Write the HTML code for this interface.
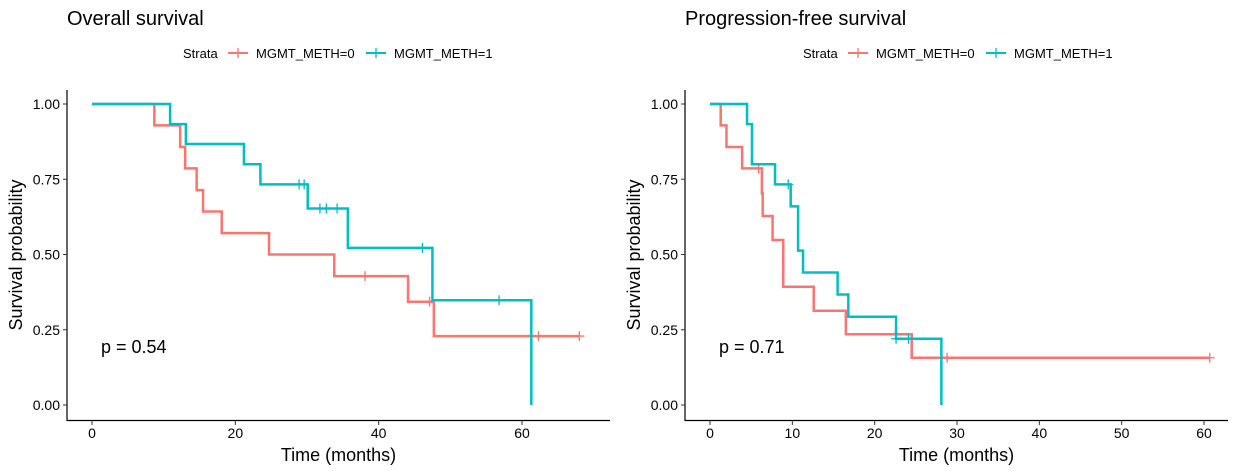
<!DOCTYPE html>
<html><head><meta charset="utf-8"><style>
body{margin:0;background:#fff;}
svg{display:block;font-family:"Liberation Sans",Arial,sans-serif;}
</style></head><body>
<svg id="c" width="1238" height="471" viewBox="0 0 1238 471"></svg>
<script>
// Overall survival data
const osRedTimes=[0,8.7,12.3,13.0,14.6,15.5,18.1,24.7,33.8,44.1,47.7,68.0];
const osRedSurv=[1,0.929,0.857,0.786,0.714,0.643,0.571,0.5,0.428,0.343,0.229,0.229];
const osRedCens=[38.1,47.1,62.3,68.0];
const osTealTimes=[0,10.9,13.1,21.2,23.5,30.1,35.7,47.5,61.3];
const osTealSurv=[1,0.933,0.867,0.8,0.733,0.653,0.522,0.348,0];
const osTealCens=[28.9,29.6,31.8,32.7,34.2,46.1,56.8];
const osXTicks=[0,20,40,60];
// Progression-free survival data
const pfsRedTimes=[0,1.3,2.0,3.9,6.3,6.4,7.6,8.9,12.6,16.5,24.5,60.7];
const pfsRedSurv=[1,0.929,0.857,0.786,0.703,0.628,0.548,0.393,0.313,0.235,0.157,0.157];
const pfsRedCens=[5.9,28.8,60.7];
const pfsTealTimes=[0,4.5,5.1,7.9,9.8,10.7,11.3,15.5,16.8,22.6,28.1];
const pfsTealSurv=[1,0.933,0.8,0.733,0.66,0.513,0.44,0.367,0.293,0.22,0];
const pfsTealCens=[9.5,22.6,24.1];
const pfsXTicks=[0,10,20,30,40,50,60];
const yTicks=[0,0.25,0.5,0.75,1.0];
const yLabels=["0.00","0.25","0.50","0.75","1.00"];

const NS="http://www.w3.org/2000/svg";
const svg=document.getElementById('c');
function mk(tag,attrs,parent){const e=document.createElementNS(NS,tag);for(const k in attrs)e.setAttribute(k,attrs[k]);(parent||svg).appendChild(e);return e;}
const RED="#F8766D",TEAL="#00BFC4";

function panel(o){
  const g=mk('g',{});
  
  
  const xs=v=>o.x0+(v/o.xmaxTick)*(o.x1-o.x0);
  const ys=v=>405-v*301;
  let t=mk('text',{x:o.titleX,y:25,'font-size':20,fill:'#000'},g);t.textContent=o.title;
  
  // legend
  const lg=mk('g',{},g);
  
  t=mk('text',{x:o.legX,y:58,'font-size':13},lg);t.textContent='Strata';
  [[RED,'MGMT_METH=0',o.legX+45],[TEAL,'MGMT_METH=1',o.legX+183]].forEach(([c,l,x])=>{
    const e=mk('g',{},lg);
    
    mk('line',{x1:x,x2:x+20,y1:53,y2:53,stroke:c,'stroke-width':2},e);
    mk('line',{x1:x+10,x2:x+10,y1:48,y2:58,stroke:c,'stroke-width':1.3},e);
    const tt=mk('text',{x:x+28,y:58,'font-size':13},e);tt.textContent=l;
  });
  // axes
  mk('line',{x1:o.ax,x2:o.ax,y1:90,y2:421,stroke:'#000','stroke-width':1.2},g);
  mk('line',{x1:o.ax,x2:o.axEnd,y1:420.5,y2:420.5,stroke:'#000','stroke-width':1.2},g);
  yTicks.forEach((v,i)=>{
    mk('line',{x1:o.ax-4,x2:o.ax,y1:ys(v),y2:ys(v),stroke:'#333'},g);
    const tx=mk('text',{x:o.ax-7,y:ys(v)+5,'font-size':14,'text-anchor':'end',fill:'#000'},g);tx.textContent=yLabels[i];
    
  });
  o.xt.forEach(v=>{
    mk('line',{x1:xs(v),x2:xs(v),y1:421,y2:425,stroke:'#333'},g);
    const tx=mk('text',{x:xs(v),y:438,'font-size':14,'text-anchor':'middle',fill:'#000'},g);tx.textContent=v;
    
  });
  t=mk('text',{x:(o.ax+o.axEnd)/2,y:461,'font-size':18,'text-anchor':'middle'},g);t.textContent='Time (months)';
  
  t=mk('text',{x:0,y:0,'font-size':18,'text-anchor':'middle',transform:`translate(${o.ax-45},255) rotate(-90)`},g);t.textContent='Survival probability';
  
  t=mk('text',{x:o.ax+34,y:353,'font-size':18},g);t.textContent=o.p;
  
  // curves
  o.series.forEach(s=>{
    let d=`M${xs(s.t[0])},${ys(s.s[0])}`;
    for(let i=1;i<s.t.length;i++){d+=`H${xs(s.t[i])}V${ys(s.s[i])}`;}
    const p=mk('path',{d:d,fill:'none',stroke:s.c,'stroke-width':2.5},g);
    
    s.cens.forEach(ct=>{
      let sv=s.s[0];for(let i=0;i<s.t.length;i++){if(s.t[i]<=ct)sv=s.s[i];}
      const m=mk('path',{d:`M${xs(ct)-5},${ys(sv)}h10M${xs(ct)},${ys(sv)-5}v10`,stroke:s.c,'stroke-width':1.3},g);
      
    });
  });
}
panel({name:'overall-survival-panel',title:'Overall survival',titleX:67,legX:183,ax:67,axEnd:610,x0:92,x1:522,xmaxTick:60,xt:osXTicks,p:'p = 0.54',
  series:[{t:osRedTimes,s:osRedSurv,cens:osRedCens,c:RED,n:'curve-meth0'},{t:osTealTimes,s:osTealSurv,cens:osTealCens,c:TEAL,n:'curve-meth1'}]});
panel({name:'pfs-panel',title:'Progression-free survival',titleX:685,legX:803,ax:685,axEnd:1228,x0:710,x1:1204,xmaxTick:60,xt:pfsXTicks,p:'p = 0.71',
  series:[{t:pfsRedTimes,s:pfsRedSurv,cens:pfsRedCens,c:RED,n:'curve-meth0'},{t:pfsTealTimes,s:pfsTealSurv,cens:pfsTealCens,c:TEAL,n:'curve-meth1'}]});
</script>
</body></html>
